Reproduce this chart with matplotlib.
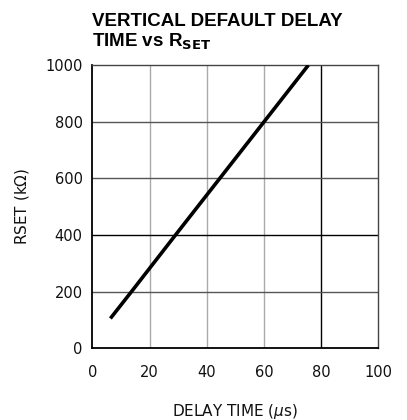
import matplotlib
matplotlib.use('Agg')
import matplotlib.pyplot as plt

# curve (it is a straight line)
delay_us = [6.3, 13.7, 29.1, 44.6, 60.1, 75.6]
rset_k = [105, 200, 400, 600, 800, 1000]

x_ticks = [0, 20, 40, 60, 80, 100]
y_ticks = [0, 200, 400, 600, 800, 1000]

fig = plt.figure(figsize=(4.07, 4.20), dpi=100)
ax = fig.add_axes([0.227, 0.171, 0.702, 0.674])

ax.set_xlim(0, 100)
ax.set_ylim(0, 1000)
ax.set_xticks(x_ticks)
ax.set_yticks(y_ticks)
ax.tick_params(length=0, labelsize=10.5, colors='#111111')
ax.tick_params(axis='x', pad=12)
ax.tick_params(axis='y', pad=7)

# grid: the 80 and 400 lines are black, the rest grey
for xv in x_ticks[1:-1]:
    ax.axvline(xv, color='black' if xv == 80 else '#aaaaaa', lw=1.0, zorder=1)
for yv in y_ticks[1:-1]:
    ax.axhline(yv, color='black' if yv == 400 else '#555555', lw=1.0, zorder=1)

for side in ['left', 'bottom']:
    ax.spines[side].set_color('black')
    ax.spines[side].set_linewidth(1.3)
for side in ['top', 'right']:
    ax.spines[side].set_color('#444444')
    ax.spines[side].set_linewidth(1.0)

ax.plot(delay_us, rset_k, color='black', lw=2.6, solid_capstyle='butt', zorder=3)

ax.set_xlabel(r'DELAY TIME ($\mu$s)', fontsize=11, labelpad=16, color='#111111')
ax.set_ylabel(r'RSET (k$\Omega$)', fontsize=11, labelpad=10, color='#111111')

fig.text(0.226, 0.938, 'VERTICAL DEFAULT DELAY', fontsize=13.5, fontweight='bold',
         family='Liberation Sans', ha='left', va='baseline')
fig.text(0.226, 0.889, r'TIME vs R$_{\mathbf{SET}}$', fontsize=13.5, fontweight='bold',
         family='Liberation Sans', ha='left', va='baseline')

fig.savefig('out.png', dpi=100)
